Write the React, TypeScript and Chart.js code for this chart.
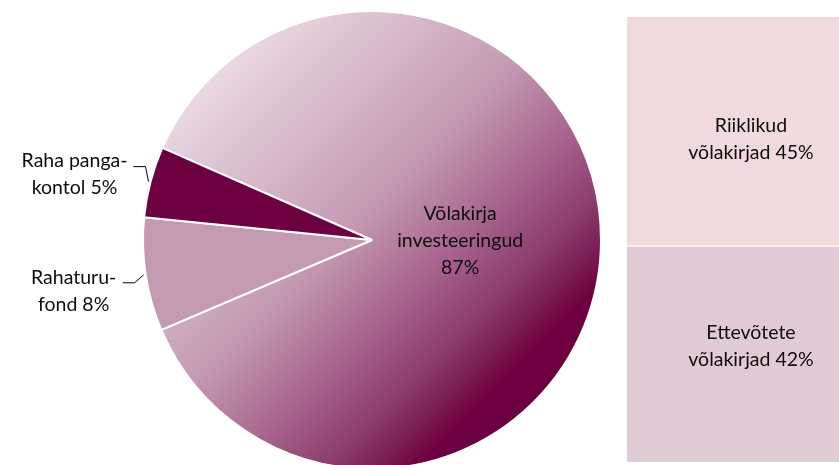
import React, { useEffect, useRef } from 'react';
import { Chart, registerables } from 'chart.js';
Chart.register(...registerables);

// ---- data ----
const pieCategories = ['Võlakirja investeeringud', 'Rahaturufond', 'Raha pangakontol'];
const pieLabelLines = [['Võlakirja', 'investeeringud'], ['Rahaturu-', 'fond'], ['Raha panga-', 'kontol']];
const pieValues = [87, 8, 5];

const barCategories = ['Ettevõtete võlakirjad', 'Riiklikud võlakirjad'];
const barLabelLines = [['Ettevõtete', 'võlakirjad'], ['Riiklikud', 'võlakirjad']];
const barValues = [42, 45];

// ---- styles ----
const FONT = '19.5px Lato';
const TEXT = '#0d0d0d';
const LINE_H = 27;
const sliceColors = ['#a0608a', '#c49ab3', '#6d0040'];
const barColors = ['#e1cad8', '#f1dadb'];
const gradientStops: [number, string][] = [
  [0.0, '#f5edf2'],
  [0.15, '#e9d8e2'],
  [0.3, '#d8bacb'],
  [0.46, '#c49ab3'],
  [0.58, '#ab6b92'],
  [0.7, '#8b3b6d'],
  [0.8, '#6d0040'],
  [1.0, '#6d0040'],
];
// label placement relative to slice (style only)
const pieLabelStyle = [
  { inside: true, r: 0.385 },
  { inside: false, elbow: [-10, 8], end: [-22, 8], tx: -71, ty: [3, 30] },
  { inside: false, elbow: [-4, -15], end: [-16, -15], tx: -75, ty: [-21, 6] },
];
const barLabelOffsets = [[-22, 5], [-6, 21]];

const pieLabelPlugin = {
  id: 'pieLabelPlugin',
  afterDatasetsDraw(chart: any) {
    const ctx = chart.ctx;
    const meta = chart.getDatasetMeta(0);
    ctx.save();
    ctx.font = FONT;
    ctx.fillStyle = TEXT;
    ctx.textAlign = 'center';
    ctx.textBaseline = 'middle';
    meta.data.forEach((arc: any, i: number) => {
      const p = arc.getProps(['x', 'y', 'startAngle', 'endAngle', 'outerRadius'], true);
      const mid = (p.startAngle + p.endAngle) / 2;
      const st: any = pieLabelStyle[i];
      const lines = pieLabelLines[i].slice();
      const val = pieValues[i] + '%';
      if (st.inside) {
        lines.push(val);
        const cx = p.x + st.r * p.outerRadius * Math.cos(mid);
        const cy = p.y + st.r * p.outerRadius * Math.sin(mid);
        lines.forEach((t: string, k: number) => {
          ctx.fillText(t, cx, cy + (k - (lines.length - 1) / 2) * LINE_H);
        });
      } else {
        lines[lines.length - 1] = lines[lines.length - 1] + ' ' + val;
        const R = p.outerRadius + 1;
        const ex = p.x + R * Math.cos(mid);
        const ey = p.y + R * Math.sin(mid);
        ctx.strokeStyle = '#000000';
        ctx.lineWidth = 1;
        ctx.beginPath();
        ctx.moveTo(ex - 1, ey);
        ctx.lineTo(ex + st.elbow[0], ey + st.elbow[1]);
        ctx.lineTo(ex + st.end[0], ey + st.end[1]);
        ctx.stroke();
        lines.forEach((t: string, k: number) => {
          ctx.fillText(t, ex + st.tx, ey + st.ty[k]);
        });
      }
    });
    ctx.restore();
  },
};

const barLabelPlugin = {
  id: 'barLabelPlugin',
  afterDatasetsDraw(chart: any) {
    const ctx = chart.ctx;
    ctx.save();
    ctx.font = FONT;
    ctx.fillStyle = TEXT;
    ctx.textAlign = 'center';
    ctx.textBaseline = 'middle';
    chart.data.datasets.forEach((ds: any, i: number) => {
      const el: any = chart.getDatasetMeta(i).data[0];
      const p = el.getProps(['x', 'y', 'base'], true);
      const cy = (p.y + p.base) / 2;
      const lines = barLabelLines[i];
      ctx.fillText(lines[0], p.x, cy + barLabelOffsets[i][0]);
      ctx.fillText(lines[1] + ' ' + barValues[i] + '%', p.x, cy + barLabelOffsets[i][1]);
    });
    ctx.restore();
  },
};

export default function App() {
  const pieRef = useRef<HTMLCanvasElement>(null);
  const barRef = useRef<HTMLCanvasElement>(null);

  useEffect(() => {
    const pie = new Chart(pieRef.current!, {
      type: 'pie',
      data: {
        labels: pieCategories,
        datasets: [
          {
            data: pieValues,
            backgroundColor: (c: any) => {
              const i = c.dataIndex;
              if (i !== 0) return sliceColors[i];
              const a = c.chart.chartArea;
              if (!a) return sliceColors[0];
              const g = c.chart.ctx.createLinearGradient(a.left, a.top, a.right, a.bottom);
              gradientStops.forEach(([o, col]) => g.addColorStop(o, col));
              return g;
            },
            borderColor: '#ffffff',
            borderWidth: 2,
          },
        ],
      },
      options: {
        responsive: false,
        animation: false,
        rotation: 293.7,
        layout: { padding: { left: 142, right: 18, top: 10, bottom: 10 } },
        plugins: { legend: { display: false }, tooltip: { enabled: false } },
      },
      plugins: [pieLabelPlugin],
    } as any);

    const bar = new Chart(barRef.current!, {
      type: 'bar',
      data: {
        labels: ['Võlakirjad'],
        datasets: barCategories.map((name, i) => ({
          label: name,
          data: [barValues[i]],
          backgroundColor: barColors[i],
          borderColor: '#ffffff',
          borderWidth: i === 1 ? { top: 0, left: 0, right: 0, bottom: 2 } : 0,
          borderSkipped: false,
          barPercentage: 1,
          categoryPercentage: 1,
        })),
      },
      options: {
        responsive: false,
        animation: false,
        layout: { padding: { left: 0, right: 0, top: 17, bottom: 3 } },
        scales: {
          x: { stacked: true, display: false },
          y: { stacked: true, display: false, min: 0, max: barValues.reduce((s, v) => s + v, 0) },
        },
        plugins: { legend: { display: false }, tooltip: { enabled: false } },
      },
      plugins: [barLabelPlugin],
    } as any);

    return () => {
      pie.destroy();
      bar.destroy();
    };
  }, []);

  return (
    <div
      style={{
        position: 'fixed',
        left: 0,
        top: 0,
        width: 839,
        height: 465,
        overflow: 'hidden',
        background: '#ffffff',
      }}
    >
      <canvas
        ref={pieRef}
        width={620}
        height={480}
        style={{ position: 'absolute', left: 0, top: 0, width: 620, height: 480 }}
      />
      <canvas
        ref={barRef}
        width={248}
        height={465}
        style={{ position: 'absolute', left: 627, top: 0, width: 248, height: 465 }}
      />
    </div>
  );
}
